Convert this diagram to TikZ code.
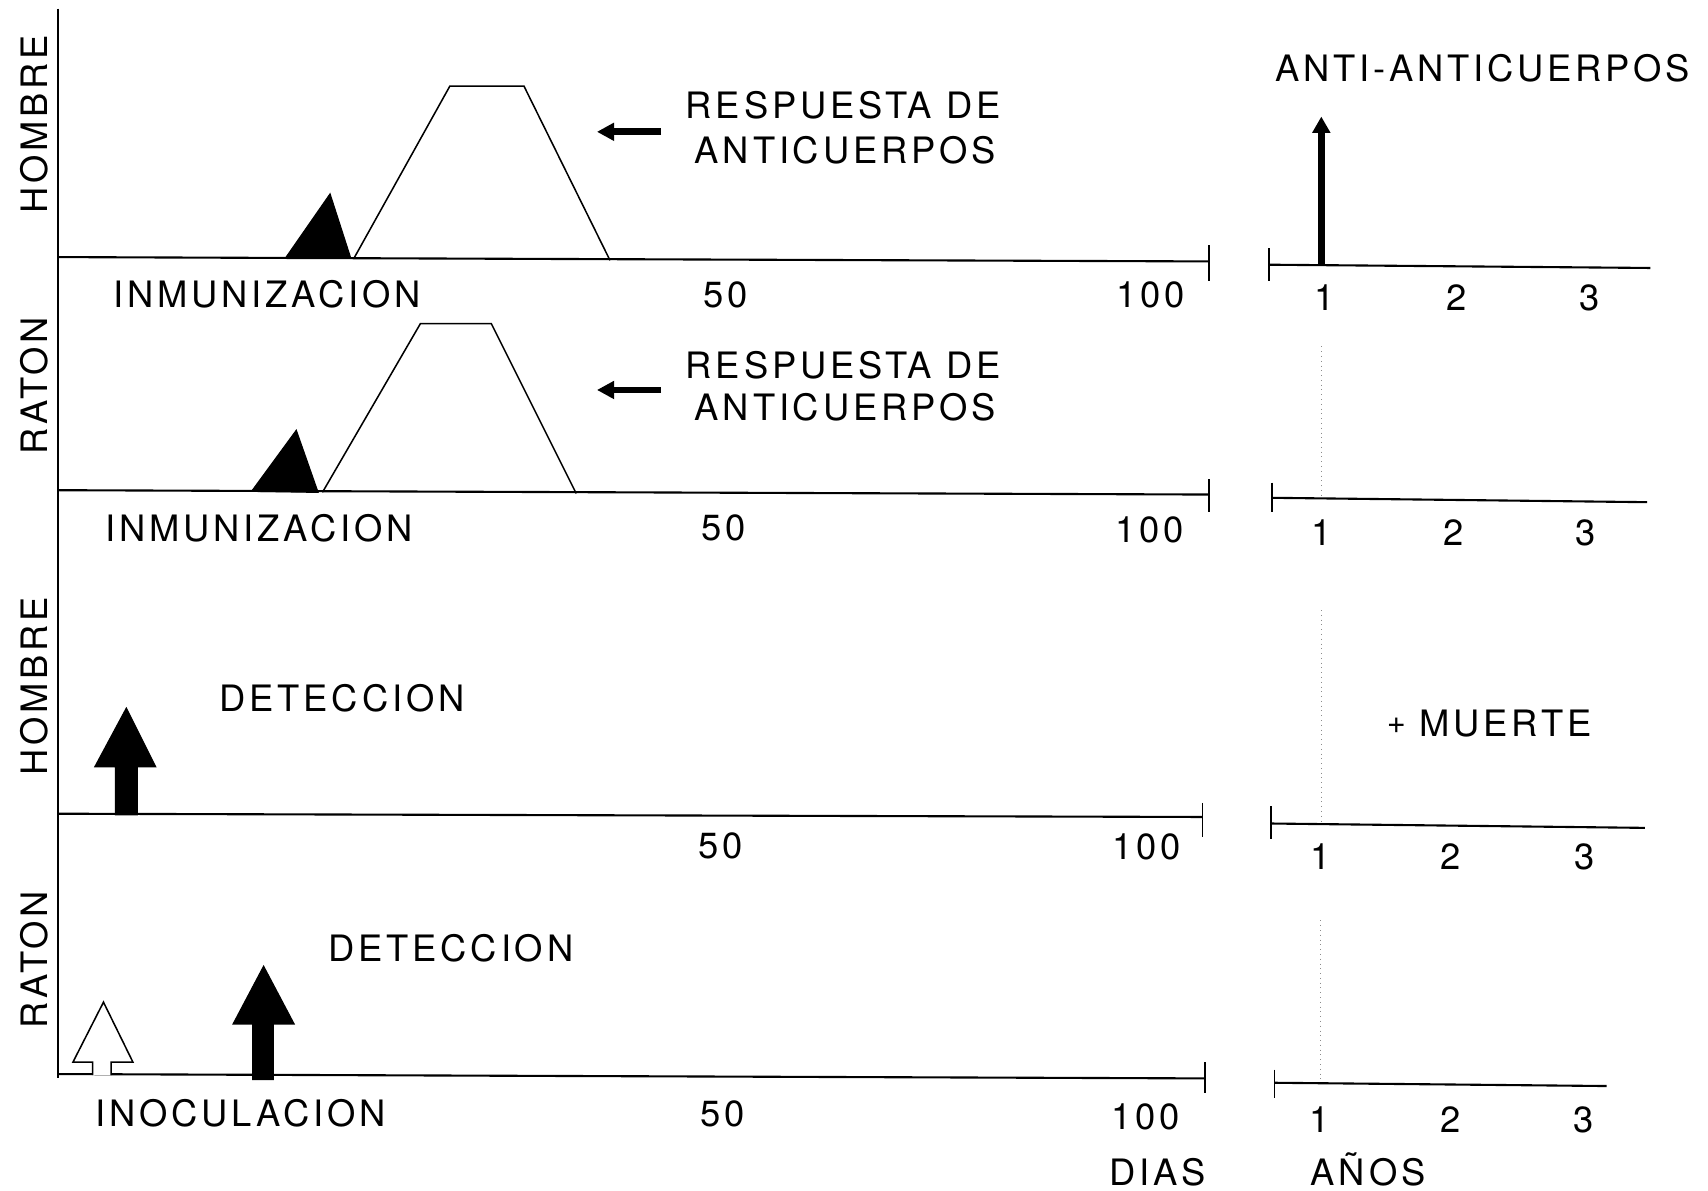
\documentclass[tikz,border=0pt]{standalone}
\usepackage{fontspec}
\setmainfont{TeX Gyre Heros}[LetterSpace=10.5]
\usetikzlibrary{arrows.meta}
\begin{document}
\begin{tikzpicture}[x=0.02cm,y=-0.02cm,
  lbl/.style={font=\fontsize{19}{23}\selectfont, inner sep=0pt, text height=13.7pt, text depth=0pt},
  vlbl/.style={lbl, rotate=90},
  axisline/.style={line width=1.1pt},
  tickline/.style={line width=0.9pt},
  thinline/.style={line width=0.8pt, line join=miter},
  ptr/.style={line width=3.5pt, -{Triangle[length=9pt,width=9pt]}},
  uparrow/.style={line width=3.4pt, -{Triangle[length=8.5pt,width=9pt]}},
  guide/.style={black!45, dotted, line width=0.5pt},
  blk/.style={fill=black, draw=black, line width=0.6pt, line join=miter},
  wht/.style={fill=white, draw=black, line width=0.8pt, line join=miter},
]
\useasboundingbox (0,0) rectangle (1568,1093);

% main vertical axis
\draw[axisline] (53,8) -- (53,990);

% ---------------- Panel 1 (HOMBRE, immunization) ----------------
\draw[axisline] (53,236) -- (1110,240);
\draw[tickline] (1110,225) -- (1110,258);
\fill[blk] (262,237) -- (303,178) -- (322,237) -- cycle;
\draw[thinline] (325,237) -- (413,79) -- (481,79) -- (560,239);
\coordinate (p1a) at (607,121);
\coordinate (p1b) at (548,121);
\draw[ptr] (p1a) -- (p1b);
\node[lbl] (resp1) at (774,97) {RESPUESTA DE};
\node[lbl] (anti1) at (776,138) {ANTICUERPOS};
\node[vlbl] (hom1) at (32,114) {HOMBRE};
\node[lbl] (inm1) at (245,270) {INMUNIZACION};
\node[lbl] (d50a) at (666,270) {50};
\node[lbl] (d100a) at (1056,270) {100};
% right (years)
\draw[tickline] (1165,228) -- (1165,258);
\draw[axisline] (1165,243) -- (1515,246);
\coordinate (aa0) at (1213,243);
\coordinate (aa1) at (1213,107);
\draw[uparrow] (aa0) -- (aa1);
\node[lbl] (antianti) at (1361,63) {ANTI-ANTICUERPOS};
\node[lbl] (y1a) at (1216,273) {1};
\node[lbl] (y2a) at (1337,273) {2};
\node[lbl] (y3a) at (1459,273) {3};

% ---------------- Panel 2 (RATON, immunization) ----------------
\draw[axisline] (53,450) -- (1110,454);
\draw[tickline] (1110,440) -- (1110,470);
\fill[blk] (231,451) -- (272,395) -- (292,452) -- cycle;
\draw[thinline] (296,452) -- (386,297) -- (451,297) -- (529,453);
\coordinate (p2a) at (607,358);
\coordinate (p2b) at (548,358);
\draw[ptr] (p2a) -- (p2b);
\node[lbl] (resp2) at (774,335) {RESPUESTA DE};
\node[lbl] (anti2) at (776,374) {ANTICUERPOS};
\node[vlbl] (rat1) at (32,354) {RATON};
\node[lbl] (inm2) at (238,485) {INMUNIZACION};
\node[lbl] (d50b) at (664,484) {50};
\node[lbl] (d100b) at (1055,486) {100};
\draw[tickline] (1168,443) -- (1168,470);
\draw[axisline] (1168,457) -- (1512,461);
\node[lbl] (y1b) at (1213,489) {1};
\node[lbl] (y2b) at (1334,489) {2};
\node[lbl] (y3b) at (1456,489) {3};

% dotted guide at year 1
\draw[guide] (1213,318) -- (1213,455);
\draw[guide] (1213,560) -- (1213,754);
\draw[guide] (1212,845) -- (1212,993);

% ---------------- Panel 3 (HOMBRE, detection) ----------------
\draw[axisline] (53,747) -- (1104,750);
\draw[tickline] (1104,737) -- (1104,768);
\fill[blk] (106,748) -- (106,704) -- (87,704) -- (116,650) -- (143,704) -- (126,704) -- (126,748) -- cycle;
\node[lbl] (det1) at (314,641) {DETECCION};
\node[vlbl] (hom2) at (32,630) {HOMBRE};
\node[lbl] (d50c) at (662,776) {50};
\node[lbl] (d100c) at (1053,777) {100};
\draw[tickline] (1167,740) -- (1167,770);
\draw[axisline] (1167,756) -- (1510,760);
\node[lbl] (muerte) at (1367,664) {\raisebox{1.6pt}{\fontsize{17}{17}\selectfont +}\ MUERTE};
\node[lbl] (y1c) at (1212,786) {1};
\node[lbl] (y2c) at (1332,786) {2};
\node[lbl] (y3c) at (1455,786) {3};

% ---------------- Panel 4 (RATON, inoculation) ----------------
\draw[axisline] (53,986) -- (1106,990);
\draw[tickline] (1106,975) -- (1106,1003);
\filldraw[wht] (85,987) -- (85,975) -- (67,975) -- (95,920) -- (122,975) -- (102,975) -- (102,987);
\fill[blk] (232,991) -- (232,940) -- (214,940) -- (242,887) -- (270,940) -- (251,940) -- (251,991) -- cycle;
\node[lbl] (det2) at (414,871) {DETECCION};
\node[vlbl] (rat2) at (32,881) {RATON};
\node[lbl] (inoc) at (221,1022) {INOCULACION};
\node[lbl] (d50d) at (663,1022) {50};
\node[lbl] (d100d) at (1052,1025) {100};
\draw[tickline] (1170,982) -- (1170,1008);
\draw[axisline] (1170,994) -- (1475,997);
\node[lbl] (y1d) at (1211,1028) {1};
\node[lbl] (y2d) at (1332,1028) {2};
\node[lbl] (y3d) at (1454,1028) {3};
\node[lbl] (dias) at (1063,1076) {DIAS};
\node[lbl] (anos) at (1256,1076) {AÑOS};
\end{tikzpicture}
\end{document}
